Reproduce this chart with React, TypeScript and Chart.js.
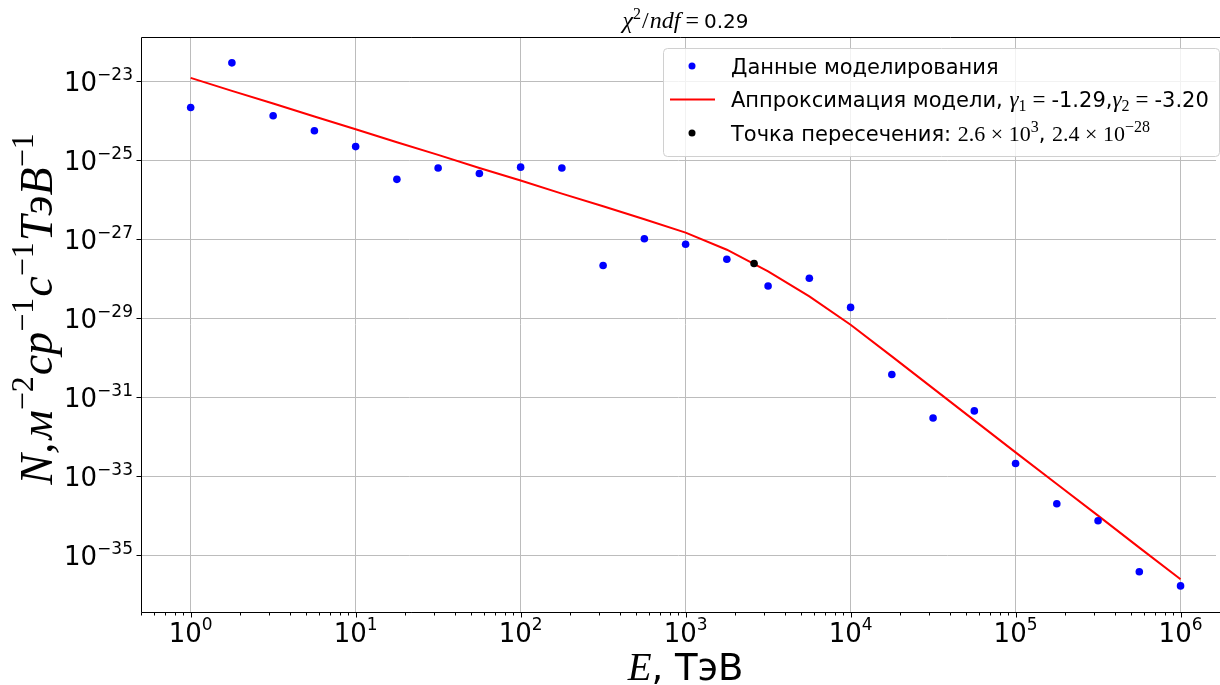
import React, { useEffect, useRef } from 'react';
import { Chart, registerables } from 'chart.js';

Chart.register(...registerables);

// ---------- data ----------
const energies = [
  1, 1.778, 3.162, 5.623, 10, 17.78, 31.62, 56.23, 100, 177.8, 316.2, 562.3,
  1000, 1778, 3162, 5623, 1e4, 1.778e4, 3.162e4, 5.623e4, 1e5, 1.778e5, 3.162e5, 5.623e5, 1e6,
];
const simulated = [
  2.14e-24, 2.88e-23, 1.32e-24, 5.5e-25, 2.19e-25, 3.24e-26, 6.31e-26, 4.57e-26, 6.61e-26, 6.31e-26,
  2.14e-28, 1.02e-27, 7.41e-28, 3.09e-28, 6.46e-29, 1.02e-28, 1.86e-29, 3.72e-31, 2.95e-32, 4.47e-32,
  2.09e-33, 2.0e-34, 7.41e-35, 3.8e-36, 1.66e-36,
];
const fitted = [
  1.2e-23, 5.62e-24, 2.69e-24, 1.26e-24, 6.03e-25, 2.82e-25, 1.35e-25, 6.31e-26, 3.02e-26, 1.41e-26,
  6.76e-27, 3.16e-27, 1.45e-27, 5.37e-28, 1.51e-28, 3.55e-29, 6.76e-30, 1.07e-30, 1.66e-31, 2.57e-32,
  3.98e-33, 6.31e-34, 1.0e-34, 1.55e-35, 2.45e-36,
];
const crossE = [2.6e3];
const crossN = [2.4e-28];
const xDecades = [0, 1, 2, 3, 4, 5, 6];
const yDecades = [-23, -25, -27, -29, -31, -33, -35];
const xRange = [0.5, 1.64e6];
const yRange = [3.63e-37, 1.3e-22];

// ---------- text helpers ----------
const SANS = '"DejaVu Sans", sans-serif';
const SERIF = '"Liberation Serif", "DejaVu Serif", serif';
const sans = (s: number) => `${s}px ${SANS}`;
const serif = (s: number) => `${s}px ${SERIF}`;
const serifI = (s: number) => `italic ${s}px ${SERIF}`;

type Run = { t: string; font: string; dy?: number; pad?: number };

function runsWidth(ctx: CanvasRenderingContext2D, runs: Run[]) {
  let w = 0;
  for (const r of runs) {
    ctx.font = r.font;
    w += ctx.measureText(r.t).width + (r.pad || 0);
  }
  return w;
}

function drawRuns(ctx: CanvasRenderingContext2D, runs: Run[], x: number, y: number, align: 'left' | 'center' | 'right') {
  const w = runsWidth(ctx, runs);
  let cx = align === 'left' ? x : align === 'center' ? x - w / 2 : x - w;
  ctx.textAlign = 'left';
  ctx.textBaseline = 'alphabetic';
  for (const r of runs) {
    ctx.font = r.font;
    ctx.fillText(r.t, cx, y + (r.dy || 0));
    cx += ctx.measureText(r.t).width + (r.pad || 0);
  }
}

const isDecade = (v: number) => Math.abs(Math.log10(v) - Math.round(Math.log10(v))) < 1e-6;

const decorPlugin = {
  id: 'decor',
  beforeDraw(chart: any) {
    const ctx = chart.ctx as CanvasRenderingContext2D;
    ctx.save();
    ctx.fillStyle = '#ffffff';
    ctx.fillRect(0, 0, chart.width, chart.height);
    ctx.restore();
  },
  afterDraw(chart: any) {
    const ctx = chart.ctx as CanvasRenderingContext2D;
    const { left, top, bottom } = chart.chartArea;
    const xs = chart.scales.x;
    const ys = chart.scales.y;
    const axisCenter = (left + 1230) / 2;
    ctx.save();
    ctx.fillStyle = '#000000';
    ctx.strokeStyle = '#000000';
    ctx.lineWidth = 1;

    // spines
    ctx.beginPath();
    ctx.moveTo(left + 0.5, top + 0.5);
    ctx.lineTo(1220, top + 0.5);
    ctx.moveTo(left + 0.5, top + 0.5);
    ctx.lineTo(left + 0.5, bottom + 0.5);
    ctx.lineTo(1220, bottom + 0.5);
    ctx.stroke();

    // x ticks (major + minor)
    ctx.beginPath();
    for (let e = -1; e <= 6; e++) {
      for (let m = 1; m <= 9; m++) {
        const v = m * Math.pow(10, e);
        if (v < xRange[0] || v > xRange[1]) continue;
        const px = Math.round(xs.getPixelForValue(v)) + 0.5;
        const len = m === 1 ? 5 : 3;
        ctx.moveTo(px, bottom + 0.5);
        ctx.lineTo(px, bottom + 0.5 + len);
      }
    }
    // y ticks
    for (const d of yDecades) {
      const py = Math.round(ys.getPixelForValue(Math.pow(10, d))) + 0.5;
      ctx.moveTo(left + 0.5, py);
      ctx.lineTo(left + 0.5 - 5, py);
    }
    ctx.stroke();

    // tick labels
    for (const d of xDecades) {
      const px = xs.getPixelForValue(Math.pow(10, d));
      drawRuns(ctx, [
        { t: '10', font: sans(26) },
        { t: String(d), font: sans(17), dy: -12 },
      ], px, bottom + 30, 'center');
    }
    for (const d of yDecades) {
      const py = ys.getPixelForValue(Math.pow(10, d));
      drawRuns(ctx, [
        { t: '10', font: sans(26) },
        { t: '\u2212' + String(-d), font: sans(17), dy: -11 },
      ], left - 8, py + 10, 'right');
    }

    // title
    drawRuns(ctx, [
      { t: '\u03c7', font: serifI(24) },
      { t: '2', font: serif(16), dy: -9, pad: 1 },
      { t: '/', font: serif(24), pad: 1 },
      { t: 'ndf', font: serifI(24), pad: 5 },
      { t: '=', font: serif(24), pad: 5 },
      { t: '0.29', font: sans(20) },
    ], axisCenter, 28, 'center');

    // x label
    drawRuns(ctx, [
      { t: 'E', font: serifI(39) },
      { t: ', ТэВ', font: sans(37) },
    ], axisCenter, 680, 'center');

    // y label (rotated)
    ctx.save();
    ctx.translate(52, 309);
    ctx.rotate(-Math.PI / 2);
    drawRuns(ctx, [
      { t: 'N,', font: serifI(46), pad: 3 },
      { t: 'м', font: serifI(46) },
      { t: '\u22122', font: serif(32), dy: -19, pad: 1 },
      { t: 'ср', font: serifI(46) },
      { t: '\u22121', font: serif(32), dy: -19, pad: 1 },
      { t: 'с', font: serifI(46) },
      { t: '\u22121', font: serif(32), dy: -19, pad: 1 },
      { t: 'ТэВ', font: serifI(46) },
      { t: '\u22121', font: serif(32), dy: -19 },
    ], 0, 0, 'center');
    ctx.restore();

    // legend
    const lx = 663, ly = 48, lw = 556, lh = 108;
    ctx.beginPath();
    (ctx as any).roundRect(lx + 0.5, ly + 0.5, lw, lh, 4);
    ctx.fillStyle = 'rgba(255,255,255,0.8)';
    ctx.fill();
    ctx.strokeStyle = '#d0d0d0';
    ctx.lineWidth = 1;
    ctx.stroke();

    const rows = [66, 99.5, 133];
    ctx.fillStyle = '#0000ff';
    ctx.beginPath();
    ctx.arc(692, rows[0], 3.5, 0, Math.PI * 2);
    ctx.fill();
    ctx.strokeStyle = '#ff0000';
    ctx.lineWidth = 2;
    ctx.beginPath();
    ctx.moveTo(670, rows[1]);
    ctx.lineTo(715, rows[1]);
    ctx.stroke();
    ctx.fillStyle = '#000000';
    ctx.beginPath();
    ctx.arc(692, rows[2], 3.5, 0, Math.PI * 2);
    ctx.fill();

    const tx = 731;
    ctx.fillStyle = '#000000';
    drawRuns(ctx, [{ t: 'Данные моделирования', font: sans(21) }], tx, rows[0] + 7.5, 'left');
    drawRuns(ctx, [
      { t: 'Аппроксимация модели, ', font: sans(21) },
      { t: '\u03b3', font: serifI(23) },
      { t: '1', font: serif(16), dy: 4, pad: 6 },
      { t: '=', font: serif(23), pad: 6 },
      { t: '-1.29,', font: sans(21) },
      { t: '\u03b3', font: serifI(23) },
      { t: '2', font: serif(16), dy: 4, pad: 6 },
      { t: '=', font: serif(23), pad: 6 },
      { t: '-3.20', font: sans(21) },
    ], tx, rows[1] + 7.5, 'left');
    drawRuns(ctx, [
      { t: 'Точка пересечения: ', font: sans(21) },
      { t: '2.6 \u00d7 10', font: serif(22) },
      { t: '3', font: serif(16), dy: -9 },
      { t: ', ', font: sans(21) },
      { t: '2.4 \u00d7 10', font: serif(22) },
      { t: '\u221228', font: serif(16), dy: -9 },
    ], tx, rows[2] + 7.5, 'left');

    ctx.restore();
  },
};

export default function App() {
  const ref = useRef<HTMLCanvasElement | null>(null);

  useEffect(() => {
    if (!ref.current) return;
    const chart = new Chart(ref.current, {
      type: 'scatter',
      data: {
        datasets: [
          {
            type: 'line' as any,
            label: 'Аппроксимация модели',
            data: energies.map((e, i) => ({ x: e, y: fitted[i] })),
            borderColor: '#ff0000',
            borderWidth: 2,
            pointRadius: 0,
            tension: 0,
            fill: false,
            order: 2,
          } as any,
          {
            label: 'Данные моделирования',
            data: energies.map((e, i) => ({ x: e, y: simulated[i] })),
            backgroundColor: '#0000ff',
            borderWidth: 0,
            pointRadius: 3.8,
            order: 1,
          },
          {
            label: 'Точка пересечения',
            data: crossE.map((e, i) => ({ x: e, y: crossN[i] })),
            backgroundColor: '#000000',
            borderWidth: 0,
            pointRadius: 3.8,
            order: 0,
          },
        ],
      },
      options: {
        animation: false,
        responsive: false,
        devicePixelRatio: 1,
        layout: { padding: { left: 141, top: 37, right: 0, bottom: 73 } },
        plugins: {
          legend: { display: false },
          tooltip: { enabled: false },
          title: { display: false },
        },
        scales: {
          x: {
            type: 'logarithmic',
            min: xRange[0],
            max: xRange[1],
            afterBuildTicks: (scale: any) => {
              const t: any[] = [];
              for (let e = -1; e <= 6; e++) {
                for (let m = 1; m <= 9; m++) {
                  const v = m * Math.pow(10, e);
                  if (v >= xRange[0] && v <= xRange[1]) t.push({ value: v });
                }
              }
              scale.ticks = t;
            },
            ticks: { display: false },
            border: { display: false },
            grid: {
              drawTicks: false,
              lineWidth: 1,
              color: (c: any) => (c.tick && isDecade(c.tick.value) ? '#bcbcbc' : 'rgba(0,0,0,0)'),
            },
          },
          y: {
            type: 'logarithmic',
            min: yRange[0],
            max: yRange[1],
            afterBuildTicks: (scale: any) => {
              scale.ticks = yDecades.map((d) => ({ value: Math.pow(10, d) }));
            },
            ticks: { display: false },
            border: { display: false },
            grid: { drawTicks: false, lineWidth: 1, color: '#bcbcbc' },
          },
        },
      } as any,
      plugins: [decorPlugin],
    });
    return () => chart.destroy();
  }, []);

  return (
    <div style={{ position: 'absolute', left: 0, top: 0, width: 1220, height: 685 }}>
      <canvas ref={ref} width={1220} height={685} style={{ display: 'block', width: 1220, height: 685 }} />
    </div>
  );
}
